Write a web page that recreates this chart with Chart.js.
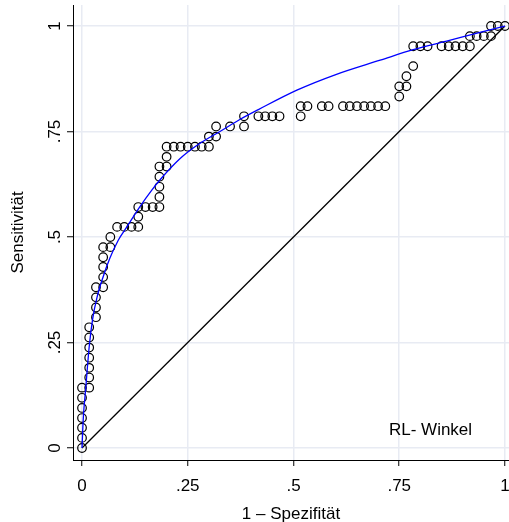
<!DOCTYPE html>
<html>
<head>
<meta charset="utf-8">
<script src="https://cdn.jsdelivr.net/npm/chart.js@4/dist/chart.umd.min.js"></script>
<style>
html,body{margin:0;padding:0;background:#fff;}
#wrap{width:509px;height:522px;position:relative;}
</style>
</head>
<body>
<div id="wrap"><canvas id="c" width="509" height="522"></canvas></div>
<script>
// ---- data ----
const tickValues = [0, 0.25, 0.5, 0.75, 1];
const tickLabels = ['0', '.25', '.5', '.75', '1'];
const xTitle = '1 \u2013 Spezifit\u00e4t';
const yTitle = 'Sensitivit\u00e4t';
const noteText = 'RL- Winkel';
const notePos = [0.824, 0.043];

// empirical ROC points (1 - specificity, sensitivity)
const rocX = [0,0,0,0,0,0,0,
  .017,.017,.017,.017,.017,.017,.017,
  .033,.033,.033,.033,
  .05,.05,.05,.05,.05,
  .067,.067,
  .083,.1,.117,.133,.133,.133,
  .15,.167,.183,.183,.183,.183,.183,
  .2,.2,.2,
  .217,.233,.25,.267,.283,.3,.3,
  .317,.317,.35,.383,.383,
  .417,.433,.45,.467,.517,.517,.533,.567,.583,
  .617,.633,.65,.667,.683,.7,.717,
  .75,.75,.767,.767,.783,.783,
  .8,.817,.85,.867,.883,.9,.917,.917,
  .933,.95,.967,.967,.983,1];
const rocY = [0,.024,.048,.071,.095,.119,.143,
  .143,.167,.19,.214,.238,.262,.286,
  .31,.333,.357,.381,
  .381,.405,.429,.452,.476,
  .476,.5,
  .524,.524,.524,.524,.548,.571,
  .571,.571,.571,.595,.619,.643,.667,
  .667,.69,.714,
  .714,.714,.714,.714,.714,.714,.738,
  .738,.762,.762,.762,.786,
  .786,.786,.786,.786,.786,.81,.81,.81,.81,
  .81,.81,.81,.81,.81,.81,.81,
  .833,.857,.857,.881,.905,.952,
  .952,.952,.952,.952,.952,.952,.952,.976,
  .976,.976,.976,1,1,1];

// fitted ROC curve (blue)
const fitX = [0, 0.003, 0.009, 0.017, 0.025, 0.036, 0.050, 0.066, 0.086, 0.106, 0.137, 0.165, 0.184, 0.232, 0.279, 0.326, 0.374, 0.417, 0.508, 0.60, 0.705, 0.783, 0.862, 0.941, 1];
const fitY = [0, 0.07, 0.144, 0.240, 0.305, 0.359, 0.406, 0.450, 0.493, 0.524, 0.572, 0.611, 0.635, 0.686, 0.722, 0.750, 0.779, 0.802, 0.848, 0.885, 0.919, 0.944, 0.964, 0.985, 1];

// reference diagonal
const diagX = [0, 1];
const diagY = [0, 1];

// ---- chart ----
const FONT = 'Liberation Sans, Arial, Helvetica, sans-serif';
const toPts = (xs, ys) => xs.map((x, i) => ({x: x, y: ys[i]}));

const notePlugin = {
  id: 'note',
  afterDatasetsDraw(chart) {
    const ctx = chart.ctx;
    const xs = chart.scales.x, ys = chart.scales.y;
    ctx.save();
    ctx.font = '17px ' + FONT;
    ctx.fillStyle = '#000';
    ctx.textAlign = 'center';
    ctx.textBaseline = 'middle';
    ctx.fillText(noteText, xs.getPixelForValue(notePos[0]), ys.getPixelForValue(notePos[1]));
    ctx.restore();
  }
};

const fixTicks = (scale) => { scale.ticks = tickValues.map(v => ({value: v})); };

new Chart(document.getElementById('c'), {
  type: 'scatter',
  data: {
    datasets: [
      {
        label: 'fit',
        data: toPts(fitX, fitY),
        showLine: true,
        borderColor: '#0000ff',
        borderWidth: 1.3,
        pointRadius: 0,
        cubicInterpolationMode: 'monotone',
        fill: false,
        clip: false
      },
      {
        label: 'roc',
        data: toPts(rocX, rocY),
        showLine: false,
        pointStyle: 'circle',
        pointRadius: 4.3,
        pointBorderWidth: 1.2,
        pointBorderColor: '#000',
        pointBackgroundColor: 'rgba(0,0,0,0)',
        clip: false
      },
      {
        label: 'diag',
        data: toPts(diagX, diagY),
        showLine: true,
        borderColor: '#000',
        borderWidth: 1.3,
        pointRadius: 0,
        fill: false,
        clip: false
      }
    ]
  },
  options: {
    responsive: false,
    animation: false,
    devicePixelRatio: 1,
    layout: {autoPadding: false, padding: {top: 5, left: 0, right: 0, bottom: 0}},
    plugins: {legend: {display: false}, tooltip: {enabled: false}},
    scales: {
      x: {
        type: 'linear',
        min: -0.0213,
        max: 1.0095,
        afterBuildTicks: fixTicks,
        afterFit: (s) => { s.height = 62; s.paddingLeft = 0; s.paddingRight = 0; },
        grid: {color: '#e8ebf3', lineWidth: 1.5, tickColor: '#000', tickLength: 6, tickWidth: 1},
        border: {display: true, color: '#000', width: 1},
        ticks: {
          font: {family: FONT, size: 17},
          color: '#000',
          padding: 10,
          maxRotation: 0,
          autoSkip: false,
          callback: (v) => tickLabels[tickValues.indexOf(v)]
        },
        title: {display: true, text: xTitle, font: {family: FONT, size: 17, lineHeight: 1}, color: '#000', padding: {top: 0, bottom: -1}}
      },
      y: {
        type: 'linear',
        min: -0.0284,
        max: 1.0498,
        afterBuildTicks: fixTicks,
        afterFit: (s) => { s.width = 73; s.paddingTop = 0; s.paddingBottom = 0; },
        grid: {color: '#e8ebf3', lineWidth: 1.5, tickColor: '#000', tickLength: 6, tickWidth: 1},
        border: {display: true, color: '#000', width: 1},
        ticks: {
          font: {family: FONT, size: 17},
          color: '#000',
          padding: 0,
          minRotation: 90,
          maxRotation: 90,
          crossAlign: 'center',
          autoSkip: false,
          callback: (v) => tickLabels[tickValues.indexOf(v)]
        },
        title: {display: true, text: yTitle, font: {family: FONT, size: 17, lineHeight: 1}, color: '#000', padding: {top: 10, bottom: 0}}
      }
    }
  },
  plugins: [notePlugin]
});
</script>
</body>
</html>
